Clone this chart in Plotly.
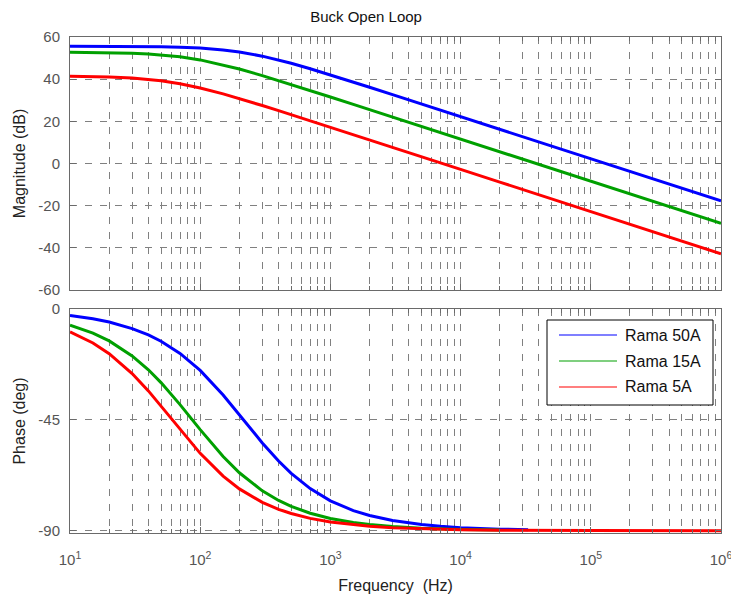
import plotly.graph_objects as go

# ---- data (frequency in Hz) ----
freq = [10, 15, 20, 30, 40, 50, 70, 100, 150, 200, 300, 400, 500, 700,
        1000, 1500, 2000, 3000, 5000, 7000, 10000, 20000, 33000, 100000, 1000000]

mag_50A = [55.59, 55.58, 55.56, 55.52, 55.45, 55.37, 55.16, 54.75, 53.88, 52.89,
           50.91, 49.11, 47.53, 44.96, 42.05, 38.64, 36.18, 32.68, 28.26, 25.35,
           22.25, 16.23, 11.88, 2.25, -17.75]
mag_15A = [52.74, 52.67, 52.58, 52.31, 51.97, 51.56, 50.63, 49.14, 46.81, 44.82,
           41.70, 39.35, 37.48, 34.62, 31.56, 28.06, 25.57, 22.05, 17.61, 14.69,
           11.59, 5.57, 1.22, -8.41, -28.41]
mag_5A = [41.38, 41.25, 41.06, 40.56, 39.95, 39.27, 37.85, 35.83, 33.02, 30.80,
          27.49, 25.07, 23.16, 20.27, 17.19, 13.68, 11.18, 7.66, 3.23, 0.30,
          -2.79, -8.81, -13.16, -22.79, -42.79]

freq_ph_50A = freq[:23]
ph_50A = [-2.66, -3.99, -5.31, -7.94, -10.54, -13.09, -18.03, -24.94, -34.90, -42.93,
          -54.37, -61.74, -66.73, -72.93, -77.87, -81.84, -83.86, -85.90, -87.54, -88.24,
          -88.77, -89.38, -89.63]
freq_ph_15A = freq[:22]
ph_15A = [-6.56, -9.78, -12.95, -19.03, -24.69, -29.89, -38.82, -48.97, -59.89, -66.49,
          -73.83, -77.73, -80.13, -82.92, -85.03, -86.68, -87.51, -88.34, -89.00, -89.29,
          -89.50, -89.75]
freq_ph_5A = freq
ph_5A = [-9.31, -13.81, -18.15, -26.19, -33.25, -39.34, -48.93, -58.61, -67.87, -73.04,
         -78.51, -81.33, -83.04, -85.02, -86.51, -87.67, -88.25, -88.84, -89.30, -89.50,
         -89.65, -89.83, -89.90, -89.97, -90.00]

names = ["Rama 50A", "Rama 15A", "Rama 5A"]
colors = ["#0000ff", "#00a000", "#ff0000"]
mags = [mag_50A, mag_15A, mag_5A]
phs = [(freq_ph_50A, ph_50A), (freq_ph_15A, ph_15A), (freq_ph_5A, ph_5A)]

mag_ticks = [-60, -40, -20, 0, 20, 40, 60]
mag_labels = ["-60", "-40", "-20", "0", "20", "40", "60"]
phase_ticks = [-90, -45, 0]
phase_labels = ["-90", "-45", "0"]
decades = [10, 100, 1000, 10000, 100000, 1000000]
decade_labels = ["10<sup>1</sup>", "10<sup>2</sup>", "10<sup>3</sup>",
                 "10<sup>4</sup>", "10<sup>5</sup>", "10<sup>6</sup>"]
minor_vals = [d * k for d in decades[:-1] for k in range(2, 10)]

FONT = "Liberation Sans, Arial, sans-serif"
GRID = "#808080"
AX = "#6a6a6a"
DASH = "7px,8px"

fig = go.Figure()
for n, c, m in zip(names, colors, mags):
    fig.add_trace(go.Scatter(x=freq, y=m, mode="lines", name=n, showlegend=False,
                             line=dict(color=c, width=3), xaxis="x", yaxis="y"))
for n, c, (fx, p) in zip(names, colors, phs):
    fig.add_trace(go.Scatter(x=fx, y=p, mode="lines", name=n, showlegend=False,
                             line=dict(color=c, width=3), xaxis="x2", yaxis="y2"))

XR = [1, 6.00001]
common_x = dict(type="log", range=XR, showgrid=True, gridcolor=GRID, griddash=DASH,
                gridwidth=1, tickmode="array", tickvals=decades, ticks="inside", ticklen=6,
                tickcolor=AX, showline=True, linecolor=AX, linewidth=1, mirror="allticks",
                zeroline=False, automargin=False, ticklabeloverflow="allow",
                minor=dict(tickmode="array", tickvals=minor_vals, showgrid=True,
                           gridcolor=GRID, griddash=DASH, gridwidth=1,
                           ticks="inside", ticklen=4, tickcolor=AX),
                tickfont=dict(family=FONT, size=15, color="#555555"))
common_y = dict(showgrid=True, gridcolor=GRID, griddash=DASH, gridwidth=1,
                ticks="inside", ticklen=6, tickcolor=AX, showline=True, linecolor=AX,
                linewidth=1, mirror="allticks", zeroline=False, ticklabelstandoff=6,
                tickmode="array", automargin=False,
                tickfont=dict(family=FONT, size=15, color="#555555"),
                title_font=dict(family=FONT, size=16, color="#222222"))

L, R, T, B = 70, 10, 37, 63
W, H = 731, 596
PW, PH = W - L - R, H - T - B

def px(x):
    return (x - L) / PW

def py(y):
    return (H - B - y) / PH

fig.update_layout(
    width=W, height=H, margin=dict(l=L, r=R, t=T, b=B),
    paper_bgcolor="white", plot_bgcolor="white",
    font=dict(family=FONT, size=15, color="#222222"),
    title=dict(text="Buck Open Loop", x=px(396), xanchor="center", y=1 - 17 / H,
               yanchor="middle", font=dict(family=FONT, size=15, color="#111111")),
    xaxis=dict(common_x, anchor="y", showticklabels=False),
    xaxis2=dict(common_x, anchor="y2", matches="x", ticktext=decade_labels,
                ticklabelstandoff=13,
                title=dict(text="Frequency  (Hz)", standoff=12,
                           font=dict(family=FONT, size=16, color="#222222"))),
    yaxis=dict(common_y, domain=[py(290), 1], range=[-60, 60], tickvals=mag_ticks,
               ticktext=mag_labels, title=dict(text="Magnitude (dB)", standoff=8)),
    yaxis2=dict(common_y, domain=[0, py(309)], range=[-90.95, 0], tickvals=phase_ticks,
                ticktext=phase_labels, title=dict(text="Phase (deg)", standoff=8)),
    showlegend=False,
)

# legend box drawn from the series names/colours
bx0, bx1, by0, by1 = 547, 713, 320, 405
fig.add_shape(type="rect", xref="paper", yref="paper", x0=px(bx0), x1=px(bx1),
              y0=py(by1), y1=py(by0), line=dict(color="#000000", width=1),
              fillcolor="white", layer="above")
rows = [335, 361, 387]
for n, c, ry in zip(names, colors, rows):
    fig.add_shape(type="line", xref="paper", yref="paper", x0=px(559), x1=px(617),
                  y0=py(ry), y1=py(ry), line=dict(color=c, width=1.2), layer="above")
    fig.add_annotation(text=n, xref="paper", yref="paper", x=px(623), y=py(ry),
                       xanchor="left", yanchor="middle", showarrow=False,
                       font=dict(family=FONT, size=16, color="#111111"))

fig.write_html("out.html")
